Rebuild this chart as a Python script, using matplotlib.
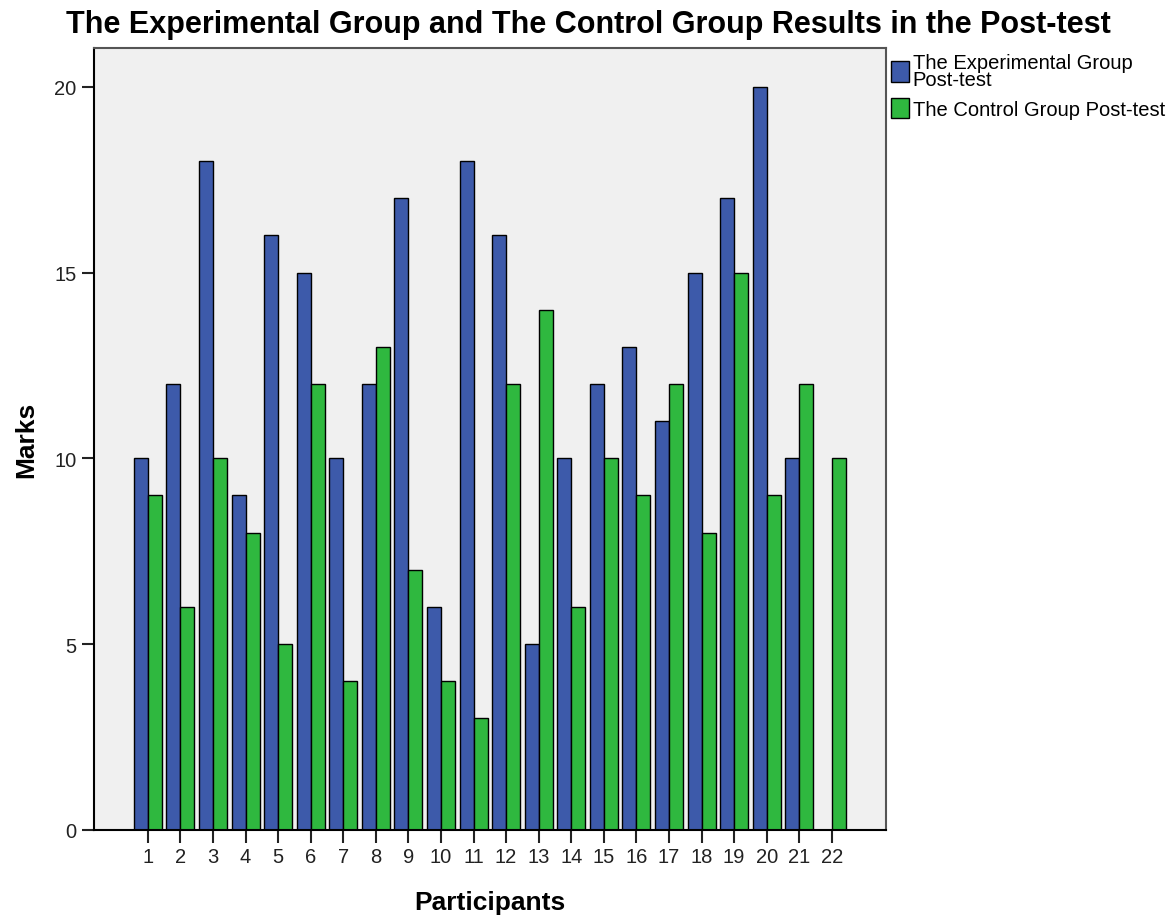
"""Post-test marks: experimental vs control group, grouped bars."""

import matplotlib

matplotlib.use("Agg")
import matplotlib.pyplot as plt
import numpy as np

plt.rcParams["font.family"] = ["Liberation Sans", "DejaVu Sans"]

participants = list(range(1, 23))
experimental = [10, 12, 18, 9, 16, 15, 10, 12, 17, 6, 18, 16, 5, 10, 12, 13, 11, 15, 17, 20, 10, 0]
control = [9, 6, 10, 8, 5, 12, 4, 13, 7, 4, 3, 12, 14, 6, 10, 9, 12, 8, 15, 9, 12, 10]
series_labels = ["The Experimental Group\nPost-test", "The Control Group Post-test"]
COLORS = ["#3d5aaa", "#2fb83f"]

fig = plt.figure(figsize=(11.76, 9.2), dpi=100)
ax = fig.add_axes([0.080, 0.097, 0.673, 0.850])
ax.set_facecolor("#f0f0f0")

x = np.array(participants)
width = 0.43
ax.bar(x - width / 2, experimental, width, color=COLORS[0], edgecolor="black",
       linewidth=1, label=series_labels[0])
ax.bar(x + width / 2, control, width, color=COLORS[1], edgecolor="black",
       linewidth=1, label=series_labels[1])

ax.set_xlim(-0.65, 23.65)
ax.set_ylim(0, 21.05)
ax.set_xticks(x)
ax.set_yticks([0, 5, 10, 15, 20])
ax.tick_params(axis="both", labelsize=14.5, length=9, width=1.5, direction="out",
               colors="#222222")
for side in ["top", "right"]:
    ax.spines[side].set_linewidth(1.5)
    ax.spines[side].set_color("#555555")
for side in ["left", "bottom"]:
    ax.spines[side].set_linewidth(1.5)

ax.set_xlabel("Participants", fontsize=19, fontweight="bold", labelpad=17)
ax.set_ylabel("Marks", fontsize=19, fontweight="bold", labelpad=12)
fig.suptitle("The Experimental Group and The Control Group Results in the Post-test",
             fontsize=22, fontweight="bold", x=0.5, y=0.989, va="top")

leg = ax.legend(loc="upper left", bbox_to_anchor=(1.0, 1.0), frameon=False,
                fontsize=14.5, handlelength=0.9, handleheight=1.2,
                handletextpad=0.2, labelspacing=0.45, borderaxespad=0.0,
                borderpad=0.25)
for text in leg.get_texts():
    text.set_linespacing(0.85)

fig.savefig("out.png", dpi=100, facecolor="white")
